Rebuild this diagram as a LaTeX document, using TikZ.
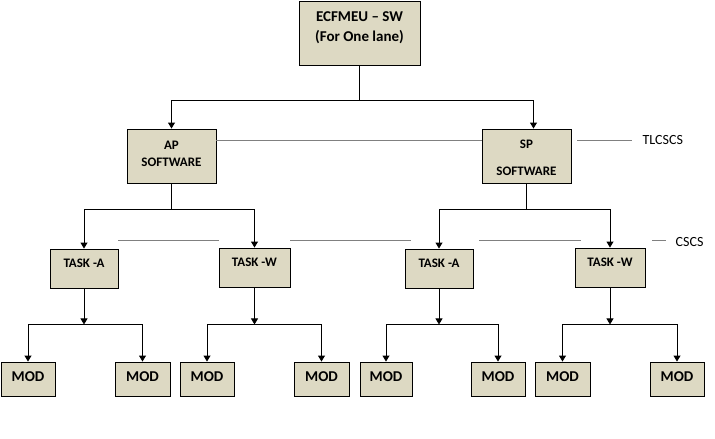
\documentclass[tikz,border=0pt]{standalone}
\usepackage{fontspec}
\setmainfont{Carlito}
\usepackage{tikz}
\usetikzlibrary{positioning, calc, arrows.meta}
\definecolor{boxfill}{HTML}{DDD9C3}
\definecolor{lvlgray}{HTML}{808080}

\begin{document}
\begin{tikzpicture}[x=1pt, y=-1pt,
  box/.style={draw, fill=boxfill, line width=0.9pt, inner sep=0pt, align=center},
  arr/.style={-{Triangle[width=7pt,length=6pt]}, line width=0.9pt},
  lvl/.style={draw=lvlgray, line width=0.8pt},
  lbl/.style={font=\fontsize{14}{16}\selectfont, inner sep=0pt}]
\useasboundingbox (0,0) rectangle (715,439);

\node[box, minimum width=121, minimum height=64, font=\bfseries\fontsize{15}{20}\selectfont, text height=30pt, text depth=12.4pt] (top) at (359.5,33) {ECFMEU – SW\\(For One lane)};

\node[box, minimum width=89, minimum height=54, font=\bfseries\fontsize{13}{17}\selectfont, text height=25.5pt, text depth=5.1pt] (ap) at (171.5,156) {AP\\SOFTWARE};
\node[box, minimum width=89, minimum height=54, font=\bfseries\fontsize{13}{17}\selectfont, text height=38.4pt, text depth=0pt] (sp) at (526.5,156) {SP\\[10pt]SOFTWARE};

\node[box, minimum width=68, minimum height=39, font=\bfseries\fontsize{13}{15}\selectfont, text height=8.4pt, text depth=11pt] (apA) at (84,268.5) {TASK -A};
\node[box, minimum width=71, minimum height=39, font=\bfseries\fontsize{13}{15}\selectfont, text height=8.4pt, text depth=11pt] (apW) at (254.5,267.5) {TASK -W};
\node[box, minimum width=68, minimum height=39, font=\bfseries\fontsize{13}{15}\selectfont, text height=8.4pt, text depth=11pt] (spA) at (439,268.5) {TASK -A};
\node[box, minimum width=70, minimum height=39, font=\bfseries\fontsize{13}{15}\selectfont, text height=8.4pt, text depth=11pt] (spW) at (610,267.5) {TASK -W};

\foreach \n/\x/\w in {m1/28/54, m2/142.5/55, m3/207/54, m4/321.5/55, m5/386/52, m6/498/54, m7/562.5/55, m8/677/54}
  \node[box, minimum width=\w, minimum height=34, font=\bfseries\fontsize{15}{17}\selectfont, text height=9.7pt, text depth=4.7pt] (\n) at (\x,379) {MOD};

% top level
\coordinate (j0) at ($(top.south)+(0,35)$);
\draw[line width=0.9pt] (top) -- (j0);
\draw[arr] (j0) -| (ap);
\draw[arr] (j0) -| ([xshift=7pt]sp.north);

% software to tasks
\coordinate (j1) at ($(ap.south)+(0,26)$);
\coordinate (j2) at ($(sp.south)+(0,26)$);
\draw[line width=0.9pt] (ap) -- (j1);
\draw[line width=0.9pt] (sp) -- (j2);
\draw[arr] (j1) -| (apA);
\draw[arr] (j1) -| (apW);
\draw[arr] (j2) -| (spA);
\draw[arr] (j2) -| (spW);

% tasks to modules
\coordinate (j3) at ($(apA.south)+(0,36)$);
\coordinate (j4) at ($(apW.south)+(0,37)$);
\coordinate (j5) at ($(spA.south)+(0,36)$);
\coordinate (j6) at ($(spW.south)+(0,37)$);
\draw[arr] (apA) -- (j3);
\draw[arr] (apW) -- (j4);
\draw[arr] (spA) -- (j5);
\draw[arr] (spW) -- (j6);
\draw[arr] (j3) -| (m1);
\draw[arr] (j3) -| (m2);
\draw[arr] (j4) -| (m3);
\draw[arr] (j4) -| (m4);
\draw[arr] (j5) -| (m5);
\draw[arr] (j5) -| (m6);
\draw[arr] (j6) -| (m7);
\draw[arr] (j6) -| (m8);

% level lines
\draw[lvl] ([yshift=16pt]ap.east) -- ([yshift=16pt]sp.west);
\draw[lvl] ([xshift=6pt,yshift=16pt]sp.east) -- ++(55,0) coordinate (t1);
\node[lbl, anchor=west] (tlcscs) at ([xshift=10pt]t1) {TLCSCS};

\draw[lvl] (apA.east |- 0,240) -- (apW.west |- 0,240);
\draw[lvl] (apW.east |- 0,240) -- ($(spA.west |- 0,240)+(6,0)$);
\draw[lvl] ($(spA.east |- 0,240)+(6,0)$) -- ($(spW.west |- 0,240)+(6,0)$);
\draw[lvl] ($(spW.east |- 0,240)+(7,0)$) -- ++(14,0) coordinate (t2);
\node[lbl, anchor=west] (cscs) at ([xshift=9pt,yshift=-2.5pt]t2) {CSCS};
\end{tikzpicture}
\end{document}
